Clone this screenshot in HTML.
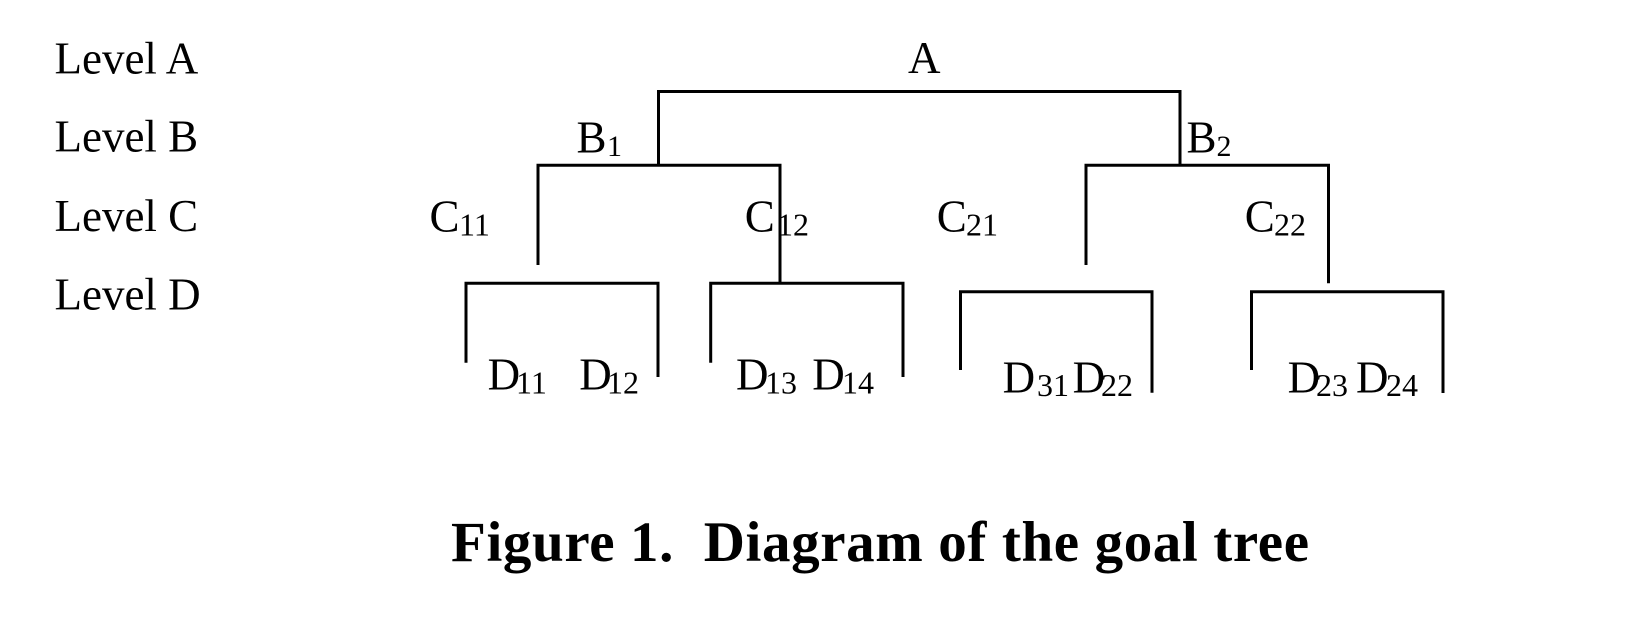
<!DOCTYPE html>
<html>
<head>
<meta charset="utf-8">
<style>
  html, body { margin: 0; padding: 0; background: #ffffff; }
  body { width: 1625px; height: 617px; overflow: hidden; }
  svg { display: block; }
  text { font-family: "Liberation Serif", "Times New Roman", serif; fill: #000; }
  .lv { font-size: 45px; }
  .m { font-size: 45px; }
  .s { font-size: 32px; }
  .sb { font-size: 30px; }
  .cap { font-size: 57px; font-weight: bold; }
</style>
</head>
<body>
<svg width="1625" height="617" viewBox="0 0 1625 617" xmlns="http://www.w3.org/2000/svg">
  <rect x="0" y="0" width="1625" height="617" fill="#ffffff"/>

  <!-- Level labels -->
  <text class="lv" x="54.5" y="73.3">Level A</text>
  <text class="lv" x="54.5" y="151.7">Level B</text>
  <text class="lv" x="54.5" y="231">Level C</text>
  <text class="lv" x="54.5" y="309.3">Level D</text>

  <!-- Tree lines -->
  <g fill="none" stroke="#000" stroke-width="3" stroke-linejoin="miter" stroke-linecap="butt">
    <path d="M658.5 165 V91.5 H1180 V165"/>
    <path d="M538 265 V165.3 H780 V283.3"/>
    <path d="M1086 265 V165.3 H1328.5 V283.3"/>
    <path d="M466 362.7 V283.3 H658 V377"/>
    <path d="M710.7 362.7 V283.3 H903 V377"/>
    <path d="M960.5 370 V291.7 H1152 V392.7"/>
    <path d="M1251.5 370 V291.7 H1443 V393"/>
  </g>

  <!-- Node labels -->
  <text class="m" x="908" y="73">A</text>

  <text class="m" x="576.5" y="152.7">B</text>
  <text class="sb" x="607" y="156">1</text>

  <text class="m" x="1186.5" y="152.7">B</text>
  <text class="sb" x="1216.5" y="156">2</text>

  <text class="m" x="429.5" y="231.7">C</text>
  <text class="s" x="459" y="235.5">11</text>

  <text class="m" x="744.7" y="231.7">C</text>
  <text class="s" x="777" y="235.5">12</text>

  <text class="m" x="936.7" y="231.7">C</text>
  <text class="s" x="966" y="235.5">21</text>

  <text class="m" x="1244.7" y="231.7">C</text>
  <text class="s" x="1274" y="235.5">22</text>

  <text class="m" x="487.6" y="389.3">D</text>
  <text class="s" x="516" y="393.5">11</text>

  <text class="m" x="579.3" y="389.3">D</text>
  <text class="s" x="607" y="393.5">12</text>

  <text class="m" x="736" y="389.3">D</text>
  <text class="s" x="765" y="393.5">13</text>

  <text class="m" x="812.3" y="389.3">D</text>
  <text class="s" x="842" y="393.5">14</text>

  <text class="m" x="1002.6" y="392.7">D</text>
  <text class="s" x="1037" y="396">31</text>

  <text class="m" x="1072.6" y="392.7">D</text>
  <text class="s" x="1101" y="396">22</text>

  <text class="m" x="1287.6" y="392.7">D</text>
  <text class="s" x="1316" y="396">23</text>

  <text class="m" x="1356" y="392.7">D</text>
  <text class="s" x="1386" y="396">24</text>

  <!-- Caption -->
  <text class="cap" x="451" y="561" textLength="858" lengthAdjust="spacing">Figure 1.&#160; Diagram of the goal tree</text>
</svg>
</body>
</html>
